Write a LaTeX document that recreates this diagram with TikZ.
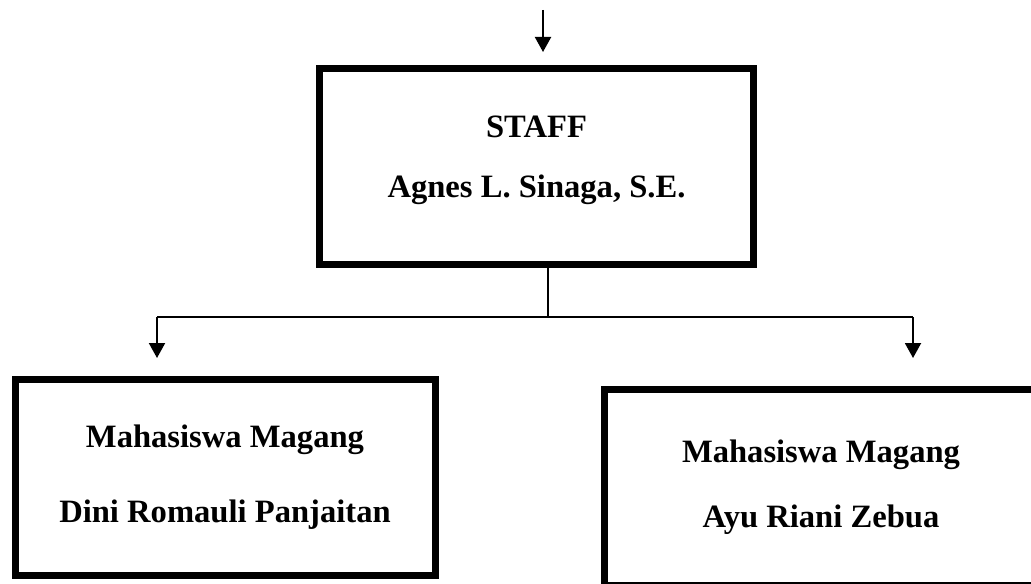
\documentclass[tikz,border=0pt]{standalone}
\usepackage{fontspec}
\setmainfont{Liberation Serif}
\usetikzlibrary{arrows.meta}

\begin{document}
\begin{tikzpicture}[x=0.5pt,y=-0.5pt,
        orgbox/.style={draw,line width=3.5pt,minimum width=217pt,minimum height=98pt,
            align=center,inner sep=0pt,font=\bfseries\fontsize{16.3}{37.5}\selectfont},
        link/.style={line width=1.2pt},
        arr/.style={line width=1pt,-{Triangle[length=7.5pt,width=8pt]}}]
        \useasboundingbox (0,0) rectangle (1031,583);
        \node[orgbox] (staff) at (536.5,166.5) {};
        \node[align=center,inner sep=0pt,font=\bfseries\fontsize{16.3}{30}\selectfont] (stafftxt) at (536.5,160) {STAFF\\Agnes L. Sinaga, S.E.};
        \node[orgbox,minimum width=210pt] (mhs1) at (225,477) {Mahasiswa Magang\\Dini Romauli Panjaitan};
        \node[orgbox,font=\bfseries\fontsize{16.3}{32.5}\selectfont] (mhs2) at (821,487.5) {Mahasiswa Magang\\Ayu Riani Zebua};
        \coordinate (in) at (543,10);
        \coordinate (split) at (548,317);
        \coordinate (lj) at (157,317);
        \coordinate (rj) at (913,317);
        \coordinate (lt) at (157,358);
        \coordinate (rt) at (913,358);
        \draw[arr] (in) -- (in |- 0,52);
        \draw[link] (staff.south -| split) -- (split);
        \draw[link] (lj) -- (rj);
        \draw[arr] (lj) -- (lt);
        \draw[arr] (rj) -- (rt);
    \end{tikzpicture}
\end{document}
